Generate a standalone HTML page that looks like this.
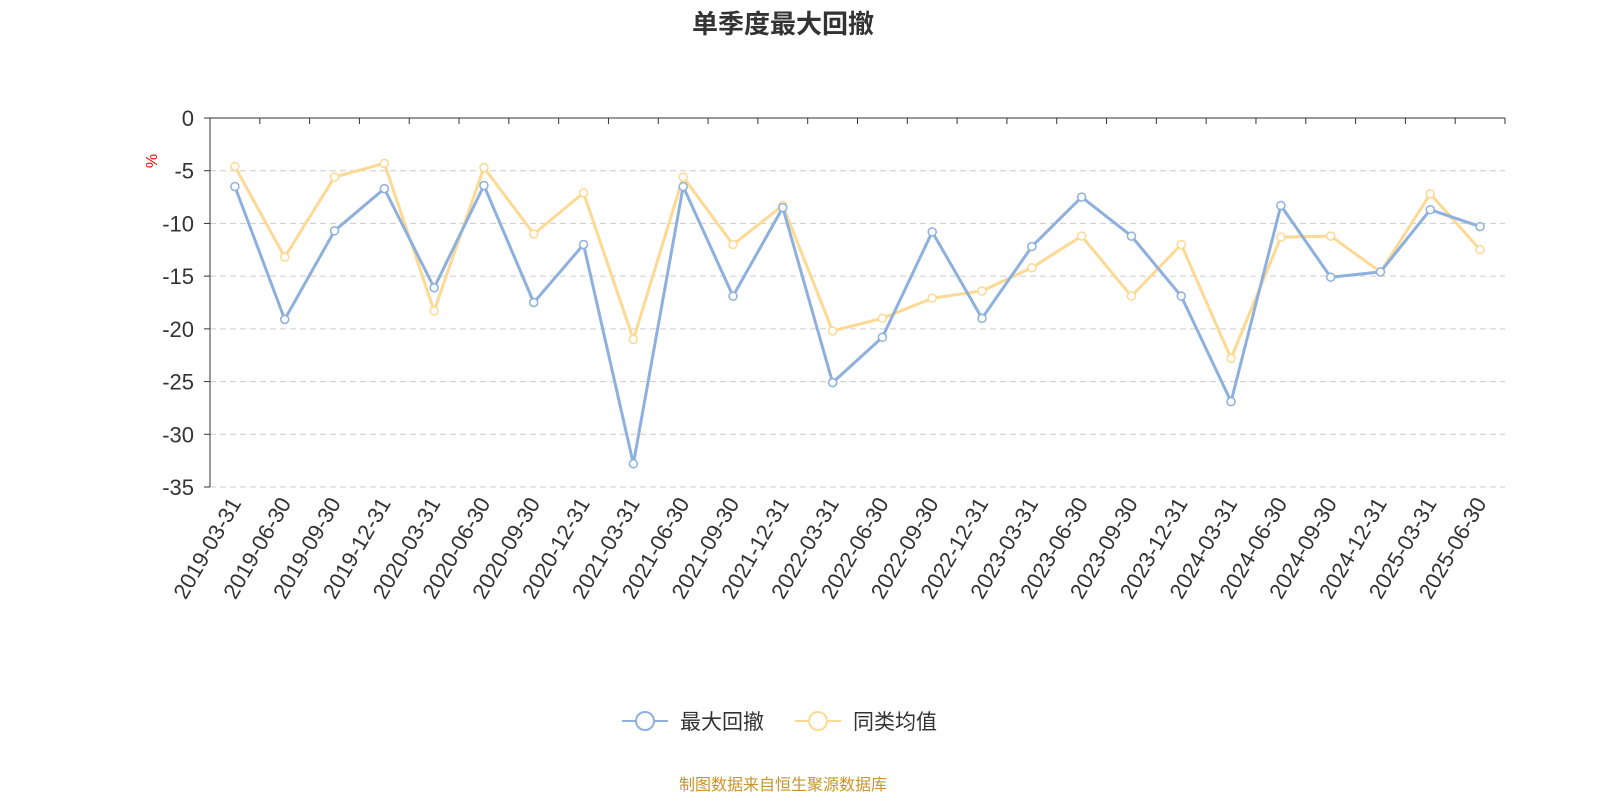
<!DOCTYPE html>
<html><head><meta charset="utf-8"><style>
body{margin:0;background:#fff;}
svg text{font-family:"Liberation Sans","Noto Sans CJK SC",sans-serif;}
</style></head><body>
<svg id="chart" width="1600" height="800" xmlns="http://www.w3.org/2000/svg">
<text x="783" y="33" text-anchor="middle" font-size="26" font-weight="bold" fill="#333">单季度最大回撤</text>
<text x="0" y="0" transform="translate(157,161) rotate(-90)" text-anchor="middle" font-size="16" fill="#f00">%</text>
<g id="grid"></g><g id="axes"></g><g id="series"></g>
<g>
<g>
<line x1="622" y1="721" x2="668" y2="721" stroke="#8eb0dc" stroke-width="2"/>
<circle cx="645" cy="721" r="9" fill="#fff" stroke="#8eb0dc" stroke-width="2"/>
<text x="680" y="729" font-size="21" fill="#333">最大回撤</text></g>
<g>
<line x1="795" y1="721" x2="841" y2="721" stroke="#fdd994" stroke-width="2"/>
<circle cx="818" cy="721" r="9" fill="#fff" stroke="#fdd994" stroke-width="2"/>
<text x="853" y="729" font-size="21" fill="#333">同类均值</text></g>
</g>
<text x="783" y="790" text-anchor="middle" font-size="16" fill="#c8952a">制图数据来自恒生聚源数据库</text>
</svg>
<script>
const categories=["2019-03-31","2019-06-30","2019-09-30","2019-12-31","2020-03-31","2020-06-30","2020-09-30","2020-12-31","2021-03-31","2021-06-30","2021-09-30","2021-12-31","2022-03-31","2022-06-30","2022-09-30","2022-12-31","2023-03-31","2023-06-30","2023-09-30","2023-12-31","2024-03-31","2024-06-30","2024-09-30","2024-12-31","2025-03-31","2025-06-30"];
const maxDrawdown=[-6.5,-19.1,-10.7,-6.7,-16.1,-6.4,-17.5,-12.0,-32.8,-6.5,-16.9,-8.5,-25.1,-20.8,-10.8,-19.0,-12.2,-7.5,-11.2,-16.9,-26.9,-8.3,-15.1,-14.6,-8.7,-10.3];
const peerAverage=[-4.6,-13.2,-5.6,-4.3,-18.3,-4.7,-11.0,-7.1,-21.0,-5.6,-12.0,-8.3,-20.2,-19.0,-17.1,-16.4,-14.2,-11.2,-16.9,-12.0,-22.8,-11.3,-11.2,-14.6,-7.2,-12.5];
const yTicks=[0,-5,-10,-15,-20,-25,-30,-35];
const L=210,R=1505,T=118,B=487,yMin=-35,yMax=0;
const bw=(R-L)/categories.length;
const x=i=>L+bw*(i+0.5);
const y=v=>T+(yMax-v)/(yMax-yMin)*(B-T);
const NS="http://www.w3.org/2000/svg";
function mk(tag,attrs,parent){const e=document.createElementNS(NS,tag);for(const k in attrs)e.setAttribute(k,attrs[k]);parent.appendChild(e);return e;}
const grid=document.getElementById('grid'),axes=document.getElementById('axes'),series=document.getElementById('series');
yTicks.forEach(t=>{
  if(t!==0){const g=mk('line',{x1:L,x2:R,y1:y(t),y2:y(t),stroke:'#ccc','stroke-dasharray':'6,4'},grid);
  
  }
  const tk=mk('line',{x1:L-6,x2:L,y1:y(t),y2:y(t),stroke:'#333'},axes);
  
  
  const lb=mk('text',{x:L-16,y:y(t)+8,'text-anchor':'end','font-size':22,fill:'#333'},axes);
  lb.textContent=t;
  
  
});
const ya=mk('line',{x1:L,x2:L,y1:T,y2:B,stroke:'#333'},axes);


const xa=mk('line',{x1:L,x2:R,y1:T,y2:T,stroke:'#333'},axes);


for(let i=0;i<=categories.length;i++){
  const tk=mk('line',{x1:L+bw*i,x2:L+bw*i,y1:T,y2:T+6,stroke:'#333'},axes);
  
  
}
categories.forEach((c,i)=>{
  const t=mk('text',{x:0,y:0,transform:`translate(${x(i)+7},${B+16}) rotate(-60)`,'text-anchor':'end','font-size':22,fill:'#333'},axes);
  t.textContent=c;
  
  
});
function draw(vals,color,name){
  const p=mk('polyline',{points:vals.map((v,i)=>x(i)+','+y(v)).join(' '),fill:'none',stroke:color,'stroke-width':3,'stroke-linejoin':'round'},series);
  
  
  vals.forEach((v,i)=>{
    const c=mk('circle',{cx:x(i),cy:y(v),r:4,fill:'#fff',stroke:color,'stroke-width':1.5},series);
    
    
  });
}
draw(peerAverage,'#fdd994','peer-average');
draw(maxDrawdown,'#8eb0dc','max-drawdown');
</script>
</body></html>
